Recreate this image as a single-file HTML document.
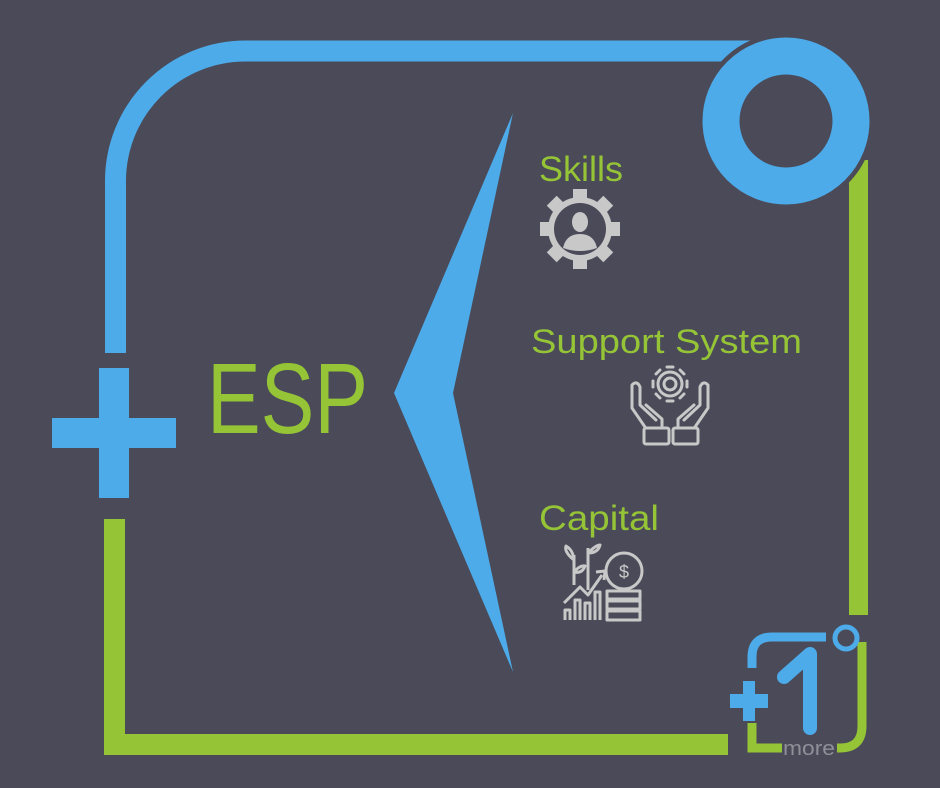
<!DOCTYPE html>
<html><head><meta charset="utf-8"><style>
html,body{margin:0;padding:0;background:#4a4a59;}
svg{display:block}
text{font-family:"Liberation Sans",sans-serif}
</style></head><body>
<svg width="940" height="788" viewBox="0 0 940 788" xmlns="http://www.w3.org/2000/svg">
<rect width="940" height="788" fill="#4a4a59"/>
<!-- blue frame -->
<path d="M115.5 353 V181 A130 130 0 0 1 245.5 51 H760" fill="none" stroke="#4dabe9" stroke-width="21"/>
<!-- green frame -->
<rect x="849" y="160" width="19" height="455" fill="#95c436"/>
<path d="M114.5 519 V744.5 H728" fill="none" stroke="#95c436" stroke-width="21"/>
<!-- ring -->
<circle cx="786" cy="121" r="66" fill="none" stroke="#4a4a59" stroke-width="44"/>
<circle cx="786" cy="121" r="65" fill="none" stroke="#4dabe9" stroke-width="37"/>
<!-- plus -->
<rect x="99" y="368" width="30" height="130" fill="#4dabe9"/>
<rect x="52" y="418" width="124" height="30" fill="#4dabe9"/>
<!-- ESP -->
<text x="207" y="433" font-size="100" fill="#95c436" textLength="161" lengthAdjust="spacingAndGlyphs">ESP</text>
<!-- chevron -->
<polygon points="513,113 394,393 513,672 453,393" fill="#4dabe9"/>
<!-- labels -->
<text x="539" y="181" font-size="35" fill="#95c436" textLength="84" lengthAdjust="spacingAndGlyphs">Skills</text>
<text x="531" y="353" font-size="34" fill="#95c436" textLength="271" lengthAdjust="spacingAndGlyphs">Support System</text>
<text x="539" y="530" font-size="35" fill="#95c436" textLength="120" lengthAdjust="spacingAndGlyphs">Capital</text>
<!-- skills gear -->
<g fill="#c8c8c8">
<circle cx="580" cy="229" r="32"/>
<g transform="translate(580 229)">
<rect x="-7" y="-40" width="14" height="12"/>
<rect x="-7" y="-40" width="14" height="12" transform="rotate(45)"/>
<rect x="-7" y="-40" width="14" height="12" transform="rotate(90)"/>
<rect x="-7" y="-40" width="14" height="12" transform="rotate(135)"/>
<rect x="-7" y="-40" width="14" height="12" transform="rotate(180)"/>
<rect x="-7" y="-40" width="14" height="12" transform="rotate(225)"/>
<rect x="-7" y="-40" width="14" height="12" transform="rotate(270)"/>
<rect x="-7" y="-40" width="14" height="12" transform="rotate(315)"/>
</g>
</g>
<circle cx="580" cy="229" r="26" fill="#4a4a59"/>
<circle cx="580" cy="229" r="24" fill="none" stroke="#c8c8c8" stroke-width="0"/>
<ellipse cx="580" cy="222" rx="8" ry="10" fill="#c8c8c8"/>
<path d="M563 248 Q566 234 580 234 Q594 234 597 248 Q580 254 563 248Z" fill="#c8c8c8"/>
<!-- support icon -->
<g fill="none" stroke="#c8c8c8" stroke-width="3" stroke-linejoin="round" stroke-linecap="round">
<circle cx="670" cy="384" r="12"/>
<circle cx="670" cy="384" r="6"/>
<g transform="translate(670 384)">
<path d="M-3 -17 H3 M-3 17 H3 M-17 -3 V3 M17 -3 V3 M10 -14 L14 -10 M-10 14 L-14 10 M-10 -14 L-14 -10 M10 14 L14 10"/>
</g>
<path d="M645 427 L632 408 V385 Q637 380 640 387 V405 L656 420"/>
<path d="M695 427 L708 408 V385 Q703 380 700 387 V405 L684 420"/>
<path d="M646 405 L662 419 V427"/>
<path d="M694 405 L678 419 V427"/>
<rect x="644" y="428" width="25" height="16" rx="2"/>
<rect x="673" y="428" width="25" height="16" rx="2"/>
</g>
<!-- capital icon -->
<g fill="none" stroke="#c8c8c8" stroke-width="3" stroke-linejoin="round">
<circle cx="624" cy="571" r="18"/>
<text x="624" y="578" font-size="18" fill="#c8c8c8" stroke="none" text-anchor="middle">$</text>
<rect x="607" y="591" width="33" height="8"/>
<rect x="607" y="601" width="33" height="8"/>
<rect x="607" y="611" width="33" height="9"/>
<path d="M564 603 L580 587 L588 595 L602 575"/>
<path d="M596 572 L605 571 L604 580"/>
<path d="M565 620 V610 H570 V620 M575 620 V600 H580 V620 M585 620 V603 H590 V620 M595 620 V592 H600 V620"/>
<path d="M574 585 V555 M574 560 Q564 552 566 546 Q573 550 574 560 M574 572 Q580 565 585 566 Q582 574 574 572"/>
<path d="M588 590 V548 M588 553 Q596 545 600 545 Q598 553 588 553"/>
</g>
<!-- logo -->
<g fill="none" stroke-width="9">
<path d="M752 668 V657 Q752 637 772 637 H826" stroke="#4dabe9"/>
<path d="M752 723 V748 H782" stroke="#95c436"/>
<path d="M862 642 V726 Q862 748 840 748 H837" stroke="#95c436"/>
</g>
<circle cx="846" cy="638" r="11" fill="none" stroke="#4dabe9" stroke-width="5"/>
<rect x="730" y="694" width="38" height="14" fill="#4dabe9"/>
<rect x="743" y="681" width="12" height="40" fill="#4dabe9"/>
<path d="M784 677 L810 654 V728" fill="none" stroke="#4dabe9" stroke-width="14" stroke-linecap="round" stroke-linejoin="round"/>
<text x="783" y="755" font-size="20" fill="#8f8f98" textLength="52" lengthAdjust="spacingAndGlyphs">more</text>
</svg>
</body></html>
